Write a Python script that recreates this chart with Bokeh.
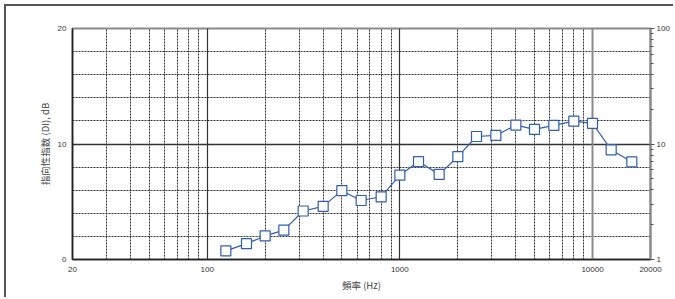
import math
from bokeh.plotting import figure
from bokeh.models import (FixedTicker, LogAxis, Range1d, LogScale, Grid, Label,
                          NumeralTickFormatter, LogTicker)
from bokeh.embed import file_html
from bokeh.resources import INLINE

# data: 1/3-octave centre frequencies (Hz) and directivity index (dB)
freq = [125, 160, 200, 250, 315, 400, 500, 630, 800, 1000, 1250, 1600,
        2000, 2500, 3150, 4000, 5000, 6300, 8000, 10000, 12500, 16000]
di = [0.75, 1.37, 2.04, 2.54, 4.2, 4.6, 5.96, 5.11, 5.43, 7.3, 8.48, 7.37,
      8.9, 10.65, 10.74, 11.63, 11.26, 11.61, 11.98, 11.78, 9.5, 8.45]

x_major = [20, 100, 1000, 10000, 20000]
x_minor = [30, 40, 50, 60, 70, 80, 90,
           200, 300, 400, 500, 600, 700, 800, 900,
           2000, 3000, 4000, 5000, 6000, 7000, 8000, 9000]
x_grid_dark = [100, 1000]
x_grid_gray = [10000]
y_major = [0, 10, 20]
y_minor = [2, 4, 6, 8, 12, 14, 16, 18]
y_grid_major = [10]

LATIN = "Liberation Sans"
CJK = "Noto Sans CJK JP"
BLUE = "#2f5db0"

p = figure(width=669, height=293, x_axis_type="log", x_range=(20, 20000),
           y_range=(0, 20), output_backend="svg", toolbar_location=None,
           min_border_left=66, min_border_right=25, min_border_top=22,
           min_border_bottom=40, background_fill_color="white",
           border_fill_color="white")
p.styles = {"border-left": "2px solid #555", "border-top": "2px solid #555",
            "margin-left": "4px", "margin-top": "4px"}

p.outline_line_color = "#8a8a8a"
p.outline_line_width = 2

# bottom axis
xa = p.xaxis[0]
xa.ticker = FixedTicker(ticks=x_major, minor_ticks=x_minor)
xa.formatter = NumeralTickFormatter(format="0")
xa.axis_line_color = "#222222"
xa.axis_line_width = 1.5
xa.major_tick_in = 0
xa.major_tick_out = 0
xa.minor_tick_in = 0
xa.minor_tick_out = 0
xa.major_label_standoff = 7
xa.major_label_text_font = LATIN
xa.major_label_text_font_size = "8px"
xa.major_label_text_color = "#333333"
xa.axis_label = "頻率 (Hz)"
xa.axis_label_text_font = CJK
xa.axis_label_text_font_size = "9.5px"
xa.axis_label_text_font_style = "normal"
xa.axis_label_text_color = "#444444"
xa.axis_label_standoff = 3

# left axis
ya = p.yaxis[0]
ya.ticker = FixedTicker(ticks=y_major, minor_ticks=y_minor)
ya.axis_line_color = "#222222"
ya.axis_line_width = 1.5
ya.major_tick_in = 0
ya.major_tick_out = 0
ya.minor_tick_in = 0
ya.minor_tick_out = 0
ya.major_label_standoff = 6
ya.major_label_text_font = LATIN
ya.major_label_text_font_size = "8px"
ya.major_label_text_color = "#333333"
ya.axis_label = "指向性指数 (DI), dB"
ya.axis_label_text_font = CJK
ya.axis_label_text_font_size = "9.5px"
ya.axis_label_text_font_style = "normal"
ya.axis_label_text_color = "#444444"
ya.axis_label_standoff = 3

# grids
p.xgrid.ticker = FixedTicker(ticks=x_grid_dark, minor_ticks=x_minor)
p.xgrid.grid_line_color = "#333333"
p.xgrid.grid_line_width = 1.2
p.xgrid.minor_grid_line_color = "#333333"
p.xgrid.minor_grid_line_dash = "2 1"
p.xgrid.minor_grid_line_width = 1

p.ygrid.ticker = FixedTicker(ticks=y_grid_major, minor_ticks=y_minor)
p.ygrid.grid_line_color = "#333333"
p.ygrid.grid_line_width = 1.5
p.ygrid.minor_grid_line_color = "#333333"
p.ygrid.minor_grid_line_dash = "2 1"
p.ygrid.minor_grid_line_width = 1

g2 = Grid(dimension=0, ticker=FixedTicker(ticks=x_grid_gray),
          grid_line_color="#8a8a8a", grid_line_width=2)
p.add_layout(g2)

# right log axis (Q)
p.extra_y_ranges = {"q": Range1d(1, 100)}
p.extra_y_scales = {"q": LogScale()}
ra = LogAxis(y_range_name="q", ticker=LogTicker(num_minor_ticks=10),
             formatter=NumeralTickFormatter(format="0"))
ra.axis_line_color = "#8a8a8a"
ra.axis_line_width = 2
ra.major_tick_in = 0
ra.major_tick_out = 4
ra.minor_tick_in = 0
ra.minor_tick_out = 3
ra.major_tick_line_color = "#555555"
ra.minor_tick_line_color = "#555555"
ra.major_label_standoff = 2
ra.major_label_text_font = LATIN
ra.major_label_text_font_size = "8px"
ra.major_label_text_color = "#333333"
p.add_layout(ra, "right")

# right-hand axis title (runs off the right edge, as in the original)
q_label = Label(x=600, y=115.5, x_units="screen", y_units="screen",
                text="指向性因数 (Q)", angle=math.pi / 2, text_align="center",
                text_baseline="middle", text_font=CJK, text_font_size="9.5px",
                text_color="#444444")
p.add_layout(q_label)

# data
p.line(freq, di, line_color=BLUE, line_width=1.2)
p.scatter(freq, di, marker="square", size=10, fill_color="white",
          line_color=BLUE, line_width=1.2)

open("out.html", "w").write(file_html(p, INLINE))
